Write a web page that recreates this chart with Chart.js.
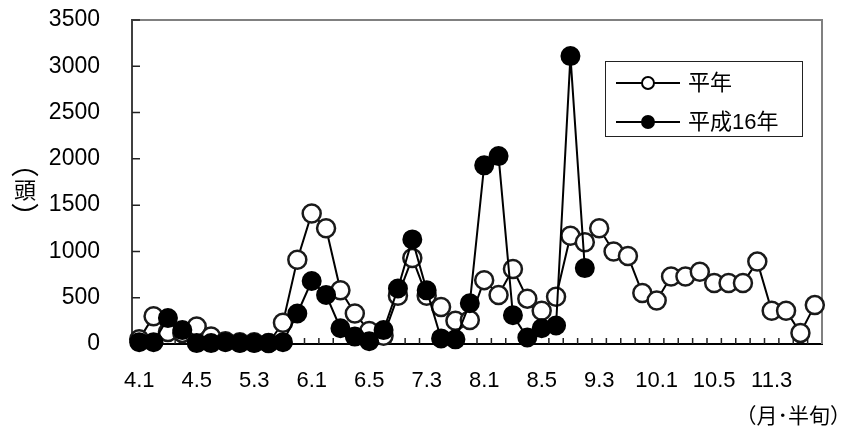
<!DOCTYPE html>
<html>
<head>
<meta charset="UTF-8">
<title>平年・平成16年</title>
<script src="https://cdn.jsdelivr.net/npm/chart.js@4.4.1/dist/chart.umd.min.js"></script>
<style>
  body { margin: 0; background: #fff; }
  #chart { display: block; }
</style>
</head>
<body>
<canvas id="chart" width="849" height="432"></canvas>
<script>
// 半旬 (5-day periods), April to November
const pentads = ['4.1','4.2','4.3','4.4','4.5','4.6',
                 '5.1','5.2','5.3','5.4','5.5','5.6',
                 '6.1','6.2','6.3','6.4','6.5','6.6',
                 '7.1','7.2','7.3','7.4','7.5','7.6',
                 '8.1','8.2','8.3','8.4','8.5','8.6',
                 '9.1','9.2','9.3','9.4','9.5','9.6',
                 '10.1','10.2','10.3','10.4','10.5','10.6',
                 '11.1','11.2','11.3','11.4','11.5','11.6'];

// only every 4th period gets a label
const tickLabels = ['4.1','4.5','5.3','6.1','6.5','7.3','8.1','8.5','9.3','10.1','10.5','11.3'];

const heinen = [50, 300, 130, 120, 190, 80,
                30, 20, 20, 10, 230, 910,
                1410, 1250, 580, 330, 140, 90,
                520, 930, 520, 400, 250, 260,
                690, 530, 810, 490, 360, 510,
                1170, 1100, 1250, 1000, 950, 550,
                470, 730, 730, 780, 660, 660,
                660, 890, 360, 360, 120, 420];

const h16 = [20, 20, 280, 150, 10, 10,
             20, 10, 10, 10, 20, 330,
             680, 530, 170, 80, 30, 150,
             600, 1130, 580, 60, 50, 440,
             1930, 2030, 310, 70, 170, 200,
             3110, 820];

const seriesNames = ['平年', '平成16年'];

const FONT = "'Liberation Sans', 'Noto Sans CJK JP', sans-serif";

// frame (top/right), inner tick marks, axis titles, legend box
const extras = {
  id: 'extras',
  beforeDatasetsDraw(chart) {
    const ctx = chart.ctx;
    const a = chart.chartArea;
    const xs = chart.scales.x, ys = chart.scales.y;
    ctx.save();
    ctx.strokeStyle = '#808080';
    ctx.lineWidth = 2;
    ctx.beginPath();
    ctx.moveTo(a.left, a.top);
    ctx.lineTo(a.right, a.top);
    ctx.lineTo(a.right, a.bottom);
    ctx.stroke();

    ctx.strokeStyle = '#222';
    ctx.lineWidth = 1.5;
    ctx.beginPath();
    ys.ticks.forEach(t => {
      const y = ys.getPixelForValue(t.value);
      ctx.moveTo(a.left, y);
      ctx.lineTo(a.left + 8, y);
    });
    const half = (xs.getPixelForValue(1) - xs.getPixelForValue(0)) / 2;
    for (let i = 1; i < pentads.length; i++) {
      const x = xs.getPixelForValue(i) - half;
      ctx.moveTo(x, a.bottom);
      ctx.lineTo(x, a.bottom - 6);
    }
    ctx.stroke();
    ctx.restore();
  },
  afterDraw(chart) {
    const ctx = chart.ctx;
    ctx.save();
    ctx.fillStyle = '#000';
    ctx.textAlign = 'center';
    ctx.textBaseline = 'middle';
    ctx.font = "28px 'Noto Sans CJK JP'";
    ctx.fillText('︵', 25, 163);
    ctx.fillText('︶', 25, 217);
    ctx.font = "22px 'Noto Sans CJK JP'";
    ctx.fillText('頭', 25, 190);

    ctx.textAlign = 'right';
    ctx.font = "21px 'Noto Sans CJK JP'";
    ctx.fillText('（月･半旬）', 851, 415);

    // legend
    ctx.strokeStyle = '#222';
    ctx.lineWidth = 1;
    ctx.strokeRect(605.5, 61.5, 197, 75);
    const rows = [83, 122];
    chart.data.datasets.slice().sort((p, q) => seriesNames.indexOf(p.label) - seriesNames.indexOf(q.label))
      .forEach((ds, i) => {
        const y = rows[i];
        ctx.strokeStyle = '#000';
        ctx.lineWidth = 2;
        ctx.beginPath();
        ctx.moveTo(616, y);
        ctx.lineTo(680, y);
        ctx.stroke();
        ctx.beginPath();
        ctx.arc(648, y, 6, 0, Math.PI * 2);
        ctx.fillStyle = ds.pointBackgroundColor;
        ctx.fill();
        ctx.lineWidth = 2;
        ctx.strokeStyle = '#000';
        ctx.stroke();
        ctx.fillStyle = '#000';
        ctx.textAlign = 'left';
        ctx.font = '22px ' + FONT;
        ctx.fillText(ds.label, 688, y + 1);
      });
    ctx.restore();
  }
};

new Chart('chart', {
  type: 'line',
  data: {
    labels: pentads,
    datasets: [{
      label: seriesNames[1],
      data: h16,
      order: 0,
      borderColor: '#000',
      borderWidth: 2,
      pointRadius: 9,
      pointBorderWidth: 2,
      pointBorderColor: '#000',
      pointBackgroundColor: '#000',
      clip: false
    }, {
      label: seriesNames[0],
      data: heinen,
      order: 1,
      borderColor: '#000',
      borderWidth: 2,
      pointRadius: 9,
      pointBorderWidth: 2.5,
      pointBorderColor: '#1a1a1a',
      pointBackgroundColor: '#fff',
      clip: false
    }]
  },
  options: {
    responsive: false,
    animation: false,
    layout: { padding: { top: 20, right: 27, left: 0, bottom: 0 } },
    plugins: { legend: { display: false }, tooltip: { enabled: false } },
    scales: {
      x: {
        offset: true,
        grid: { display: false, drawTicks: false },
        border: { display: true, color: '#000', width: 2 },
        ticks: {
          autoSkip: false,
          maxRotation: 0,
          padding: 24,
          color: '#000',
          font: { family: FONT, size: 22 },
          callback: function (v, i) {
            const lab = this.getLabelForValue(v);
            return tickLabels.includes(lab) ? lab : '';
          }
        },
        afterFit: s => { s.height = 88; s.paddingLeft = 0; s.paddingRight = 0; }
      },
      y: {
        min: 0,
        max: 3500,
        grid: { display: false, drawTicks: false },
        border: { display: true, color: '#404040', width: 2 },
        ticks: {
          stepSize: 500,
          padding: 32,
          color: '#000',
          font: { family: FONT, size: 23 },
          callback: v => String(v)
        },
        afterFit: s => { s.width = 132; s.paddingTop = 0; s.paddingBottom = 0; }
      }
    }
  },
  plugins: [extras]
});
</script>
</body>
</html>
